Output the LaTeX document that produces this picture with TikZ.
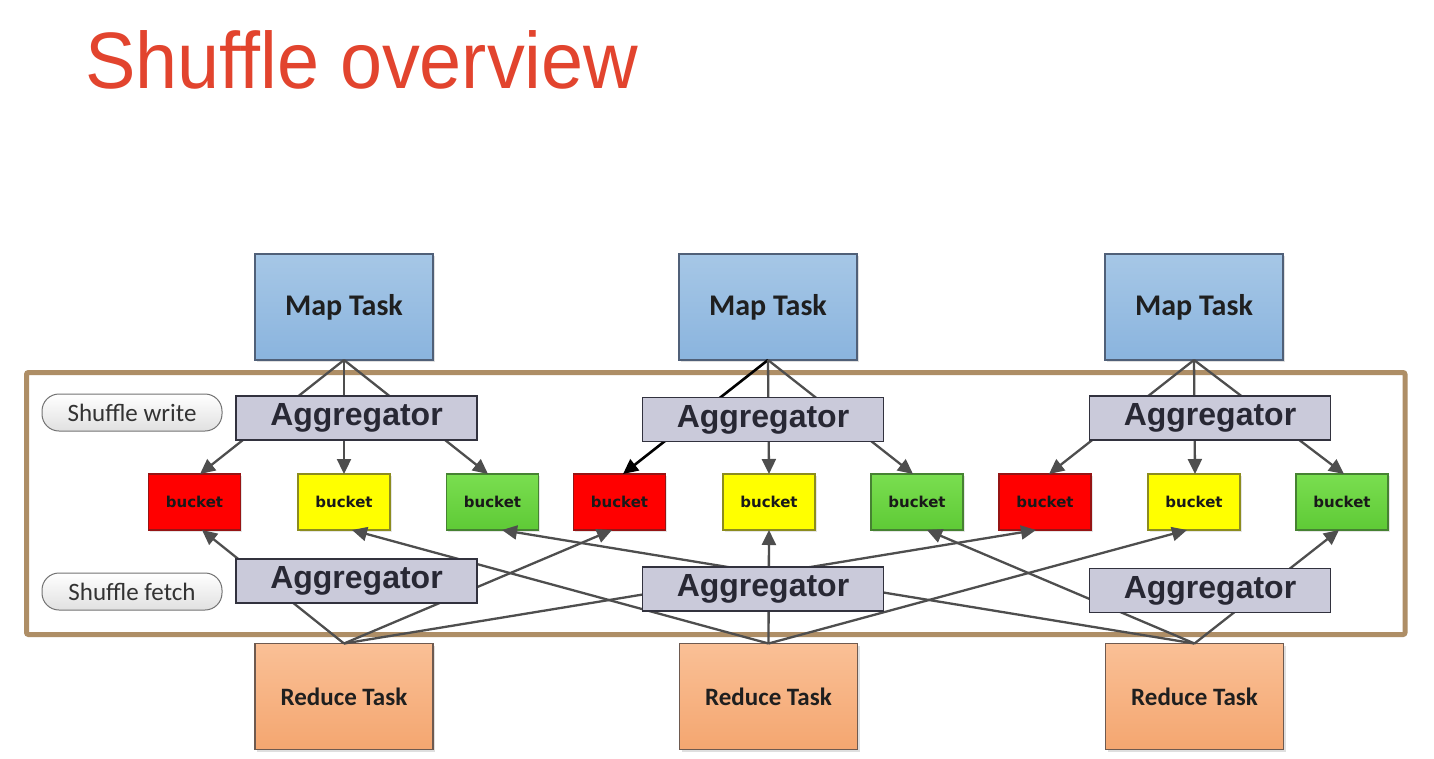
\documentclass[tikz,border=0pt]{standalone}
\usepackage{fontspec}
\setmainfont{Liberation Sans}
\newfontfamily\carlito{Carlito}
\newfontfamily\dejavu{DejaVu Sans}
\usetikzlibrary{arrows.meta,calc,shadows}
\definecolor{titlered}{RGB}{226,68,46}
\definecolor{mapTop}{RGB}{166,199,230}
\definecolor{mapBot}{RGB}{138,180,222}
\definecolor{mapLine}{RGB}{80,96,120}
\definecolor{redTop}{RGB}{250,192,150}
\definecolor{redBot}{RGB}{244,166,112}
\definecolor{redLine}{RGB}{110,90,80}
\definecolor{aggFill}{RGB}{202,202,218}
\definecolor{aggLine}{RGB}{50,50,62}
\definecolor{aggText}{RGB}{40,40,52}
\definecolor{frameCol}{RGB}{174,142,102}
\definecolor{lineGray}{RGB}{78,78,78}
\definecolor{bRed}{RGB}{255,0,0}
\definecolor{bRedL}{RGB}{150,20,20}
\definecolor{bYel}{RGB}{255,255,0}
\definecolor{bYelL}{RGB}{140,140,30}
\definecolor{bGrnT}{RGB}{122,222,80}
\definecolor{bGrnB}{RGB}{94,202,54}
\definecolor{bGrnL}{RGB}{70,130,50}
\begin{document}
\begin{tikzpicture}[x=1pt,y=-1pt,
  task/.style={draw=mapLine, line width=1.2pt, minimum width=178pt, minimum height=106pt,
     inner sep=0pt, outer sep=0pt, text=black!88,
     drop shadow={shadow xshift=2pt, shadow yshift=-2pt, opacity=0.25}},
  maptask/.style={task, top color=mapTop, bottom color=mapBot, font=\carlito\bfseries\fontsize{30}{32}\selectfont},
  redtask/.style={task, draw=redLine, top color=redTop, bottom color=redBot, font=\carlito\bfseries\fontsize{25}{30}\selectfont},
  agg/.style={draw=aggLine, fill=aggFill, line width=1.3pt, minimum width=241pt, minimum height=44pt,
     inner sep=0pt, outer sep=0pt, text=aggText, font=\bfseries\fontsize{32}{34}\selectfont},
  bucketbox/.style={line width=1.2pt, minimum width=92pt, minimum height=56pt, inner sep=0pt, outer sep=0pt,
     text=black!90, font=\dejavu\bfseries\fontsize{15}{18}\selectfont,
     drop shadow={shadow xshift=1.5pt, shadow yshift=-1.5pt, opacity=0.2}},
  bred/.style={bucketbox, draw=bRedL, fill=bRed},
  byel/.style={bucketbox, draw=bYelL, fill=bYel},
  bgrn/.style={bucketbox, draw=bGrnL, top color=bGrnT, bottom color=bGrnB},
  pill/.style={draw=black!55, line width=1pt, top color=white, bottom color=black!12,
     rounded corners=17pt, minimum width=180pt, minimum height=37pt, inner sep=0pt,
     text=black!80, font=\carlito\fontsize{25}{28}\selectfont},
  conn/.style={draw=lineGray, line width=2.3pt, -{Triangle[length=15pt,width=14pt]}},
  plain/.style={draw=lineGray, line width=2.3pt}
]
\useasboundingbox (0,0) rectangle (1434,758);
\fill[white] (0,0) rectangle (1434,758);

% title
\node[anchor=base west, inner sep=0pt, text=titlered, font=\fontsize{80}{90}\selectfont] (title) at (85,88) {\scalebox{0.945}[1]{Shuffle overview}};

% frame
\draw[line width=5pt, draw=frameCol, rounded corners=2pt] (26.5,372.5) rectangle (1405,634.5);

% pills
\node[pill] (sw) at (132,412.5) {Shuffle write};
\node[pill] (sf) at (132,591.5) {Shuffle fetch};

% map tasks
\node[maptask] (m1) at (344,307) {Map Task};
\node[maptask] (m2) at (768,307) {Map Task};
\node[maptask] (m3) at (1194,307) {Map Task};

% reduce tasks
\node[redtask] (t1) at (344,696.5) {Reduce Task};
\node[redtask] (t2) at (768.5,696.5) {Reduce Task};
\node[redtask] (t3) at (1194.5,696.5) {Reduce Task};

% buckets
\node[bred] (r1) at (194.5,502) {bucket};
\node[byel] (y1) at (344,502) {bucket};
\node[bgrn] (g1) at (492.5,502) {bucket};
\node[bred] (r2) at (619.5,502) {bucket};
\node[byel] (y2) at (769,502) {bucket};
\node[bgrn] (g2) at (917,502) {bucket};
\node[bred] (r3) at (1045,502) {bucket};
\node[byel] (y3) at (1194,502) {bucket};
\node[bgrn] (g3) at (1342,502) {bucket};

% write connectors
\draw[conn] (m1.south) -- ($(r1.north)+(5.5,0)$);
\draw[conn] (m1.south) -- (y1.north);
\draw[conn] (m1.south) -- ($(g1.north)+(-4.5,0)$);
\draw[conn, draw=black, line width=2.6pt] (m2.south) -- ($(r2.north)+(3.5,0)$);
\draw[conn] (m2.south) -- (y2.north);
\draw[conn] (m2.south) -- ($(g2.north)+(-4,0)$);
\draw[conn] (m3.south) -- ($(r3.north)+(4,0)$);
\draw[conn] (m3.south) -- ($(y3.north)+(1,0)$);
\draw[conn] (m3.south) -- ($(g3.north)+(2,0)$);

% fetch connectors
\draw[conn] (t1.north) -- ($(r1.south)+(7.5,0)$);
\draw[conn] (t1.north) -- ($(r2.south)+(-7.5,0)$);
\draw[conn] (t1.north) -- ($(r3.south)+(-9,0)$);
\draw[conn] (t2.north) -- ($(y1.south)+(8,0)$);
\draw[conn] (t2.north) -- (y2.south);
\draw[conn] (t2.north) -- ($(y3.south)+(-7,0)$);
\draw[conn] (t3.north) -- ($(g1.south)+(9.5,0)$);
\draw[conn] (t3.north) -- ($(g2.south)+(10,0)$);
\draw[conn] (t3.north) -- ($(g3.south)+(-3,0)$);

% aggregators (drawn over the connectors)
\node[agg] (wa1) at (356.5,418) {Aggregator};
\node[agg] (wa2) at (763,419.5) {Aggregator};
\node[agg] (wa3) at (1210,418) {Aggregator};
\node[agg] (fa1) at (356.5,581) {Aggregator};
\node[agg] (fa2) at (763,589) {Aggregator};
\node[agg] (fa3) at (1210,590.5) {Aggregator};
\end{tikzpicture}
\end{document}
